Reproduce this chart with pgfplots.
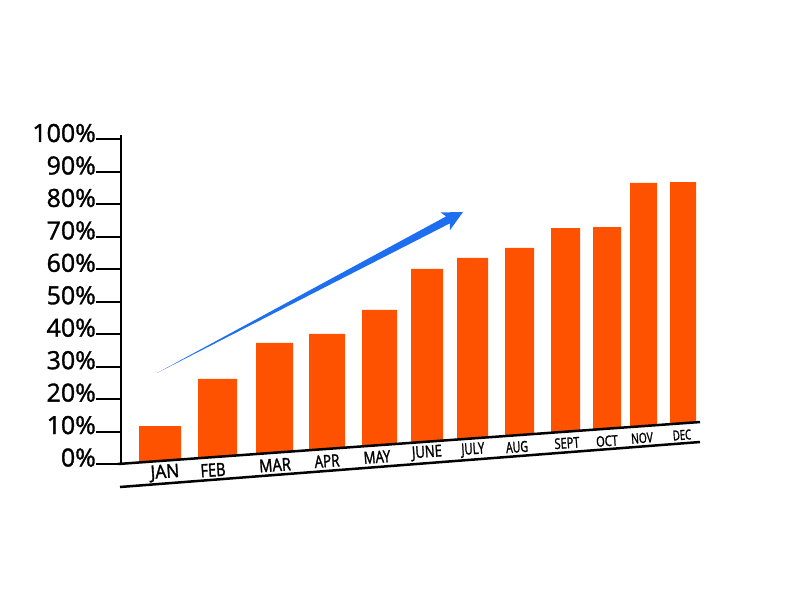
\documentclass[border=0pt]{standalone}
\usepackage{fontspec}
\setmainfont{Open Sans}
\newfontfamily\ticklabelfont{Open Sans}[FakeBold=1.3]
\newfontfamily\monthfont{Open Sans}[FakeBold=1.8]
\usepackage{graphicx}
\usepackage{pgfplots}
\pgfplotsset{compat=1.18}

\definecolor{barorange}{RGB}{255,82,0}
\definecolor{arrowblue}{RGB}{30,110,240}

% month label: x, y, width, height, text
\newcommand{\mlab}[5]{\node[anchor=center, inner sep=0pt, rotate=4]
  at (axis cs:#1,#2) {\resizebox{#3pt}{#4pt}{\monthfont #5}};}

\begin{document}
\begin{tikzpicture}
\begin{axis}[
    scale only axis, width=800pt, height=600pt,
    xmin=0, xmax=800, ymin=-41.91, ymax=142.99,
    axis x line=none, axis y line*=left,
    y axis line style={draw=none},
    clip=false,
    ytick={0,10,...,100},
    tick align=outside, major tick length=25pt,
    tick style={black, line width=2pt, xshift=121pt},
    /pgf/number format/assume math mode=true,
    yticklabel={\pgfmathprintnumber{\tick}\%},
    yticklabel style={font=\ticklabelfont\fontsize{25}{25}\selectfont, anchor=base east,
      inner sep=0pt, xshift=121pt, yshift=-2.5pt},
  ]
  \path (axis cs:0,-41.91) rectangle (axis cs:800,142.99);

  % bars: bottom follows the slanted base line, top is the value
  \addplot[fill=barorange, draw=none] coordinates {(139,0.40) (181,1.34) (181,11.7) (139,11.7)} -- cycle;
  \addplot[fill=barorange, draw=none] coordinates {(198,1.72) (237,2.59) (237,26.2) (198,26.2)} -- cycle;
  \addplot[fill=barorange, draw=none] coordinates {(256,3.02) (293,3.85) (293,37.3) (256,37.3)} -- cycle;
  \addplot[fill=barorange, draw=none] coordinates {(309,4.20) (345,5.01) (345,40.1) (309,40.1)} -- cycle;
  \addplot[fill=barorange, draw=none] coordinates {(362,5.39) (397,6.17) (397,47.5) (362,47.5)} -- cycle;
  \addplot[fill=barorange, draw=none] coordinates {(411,6.48) (443,7.20) (443,60.1) (411,60.1)} -- cycle;
  \addplot[fill=barorange, draw=none] coordinates {(457,7.51) (488,8.20) (488,63.5) (457,63.5)} -- cycle;
  \addplot[fill=barorange, draw=none] coordinates {(505,8.58) (534,9.23) (534,66.6) (505,66.6)} -- cycle;
  \addplot[fill=barorange, draw=none] coordinates {(551,9.61) (580,10.26) (580,72.7) (551,72.7)} -- cycle;
  \addplot[fill=barorange, draw=none] coordinates {(593,10.55) (621,11.18) (621,73.0) (593,73.0)} -- cycle;
  \addplot[fill=barorange, draw=none] coordinates {(630,11.38) (657,11.98) (657,86.6) (630,86.6)} -- cycle;
  \addplot[fill=barorange, draw=none] coordinates {(670,12.27) (696,12.85) (696,86.9) (670,86.9)} -- cycle;

  % trend arrow
  \addplot[fill=arrowblue, draw=none] coordinates {(157,28.04) (449.8,74.14) (450.0,72.06)
    (463,77.66) (440.6,77.52) (446.1,76.30)} -- cycle;

  % axis line, base line and lower line
  \addplot[black, line width=2.6pt] coordinates {(121,-0.3) (121,101.4)};
  \addplot[black, line width=2.5pt] coordinates {(118,0) (700,12.94)};
  \addplot[black, line width=2.5pt] coordinates {(120,-7.09) (700,6.78)};

  \mlab{165}{-2.77}{28.7}{13.3}{JAN}
  \mlab{213}{-1.85}{25}{13.0}{FEB}
  \mlab{275}{-0.31}{31.7}{12.6}{MAR}
  \mlab{327}{0.92}{25}{12.3}{APR}
  \mlab{377}{2.16}{26.7}{12.0}{MAY}
  \mlab{427}{3.39}{30}{11.6}{JUNE}
  \mlab{473}{4.31}{23}{11.3}{JULY}
  \mlab{517}{5.24}{22}{11.0}{AUG}
  \mlab{567}{6.47}{25}{10.7}{SEPT}
  \mlab{607}{7.09}{21.7}{10.5}{OCT}
  \mlab{642}{8.01}{21.7}{10.2}{NOV}
  \mlab{682}{8.94}{18.3}{10.0}{DEC}
\end{axis}
\end{tikzpicture}
\end{document}
